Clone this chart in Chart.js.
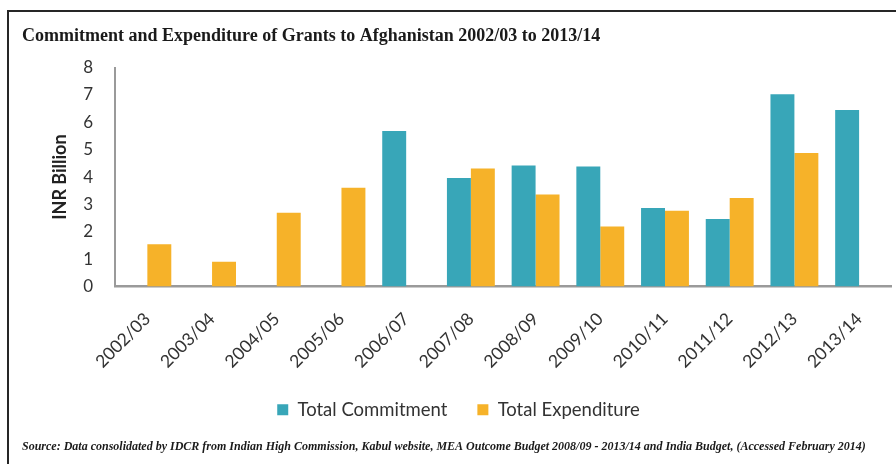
<!DOCTYPE html>
<html>
<head>
<meta charset="utf-8">
<script src="https://cdn.jsdelivr.net/npm/chart.js@4.4.1/dist/chart.umd.min.js"></script>
<style>
  html, body { margin: 0; padding: 0; background: #fff; }
  #wrap { position: relative; width: 896px; height: 464px; }
  #frame {
    position: absolute; left: 7px; top: 10px; width: 900px; height: 470px;
    border-top: 2.5px solid #262626; border-left: 2.5px solid #262626;
    pointer-events: none;
  }
</style>
</head>
<body>
<div id="wrap">
  <canvas id="chart" width="896" height="464"></canvas>
  <div id="frame"></div>
</div>
<script>
const years = ['2002/03', '2003/04', '2004/05', '2005/06', '2006/07', '2007/08',
               '2008/09', '2009/10', '2010/11', '2011/12', '2012/13', '2013/14'];
const commitment = [null, null, null, null, 5.68, 3.97, 4.42, 4.39, 2.87, 2.47, 7.03, 6.45];
const expenditure = [1.55, 0.91, 2.70, 3.61, null, 4.31, 3.36, 2.20, 2.77, 3.24, 4.88, null];
const yTicks = [0, 1, 2, 3, 4, 5, 6, 7, 8];

const sans = 'Lato, "Open Sans", sans-serif';
const serif = '"Liberation Serif", "Times New Roman", serif';

new Chart(document.getElementById('chart').getContext('2d'), {
    type: 'bar',
    data: {
        labels: years,
        datasets: [{
            label: 'Total Commitment',
            data: commitment,
            backgroundColor: '#38A6B8',
            barPercentage: 1,
            categoryPercentage: 0.74
        }, {
            label: 'Total Expenditure',
            data: expenditure,
            backgroundColor: '#F6B229',
            barPercentage: 1,
            categoryPercentage: 0.74
        }]
    },
    options: {
        responsive: false,
        animation: false,
        layout: { padding: { left: 22, right: 1, top: 0, bottom: 0 } },
        plugins: {
            title: {
                display: true,
                text: 'Commitment and Expenditure of Grants to Afghanistan 2002/03 to 2013/14',
                align: 'start',
                color: '#1a1a1a',
                font: { family: serif, size: 18, weight: 'bold' },
                padding: { top: 26, bottom: 20 }
            },
            subtitle: {
                display: true,
                position: 'bottom',
                text: 'Source: Data consolidated by IDCR from Indian High Commission, Kabul website, MEA Outcome Budget 2008/09 - 2013/14 and India Budget, (Accessed February 2014)',
                align: 'start',
                color: '#1a1a1a',
                font: { family: serif, size: 12, weight: 'bold', style: 'italic' },
                padding: { top: 10.5, bottom: 10 }
            },
            legend: {
                position: 'bottom',
                labels: {
                    color: '#333',
                    font: { family: sans, size: 18.5 },
                    boxWidth: 11,
                    boxHeight: 11,
                    padding: 30
                }
            },
            tooltip: { enabled: false }
        },
        scales: {
            x: {
                grid: { display: false, drawTicks: false },
                border: { color: '#9a9a9a', width: 2.5 },
                ticks: {
                    color: '#333',
                    font: { family: sans, size: 17.5 },
                    minRotation: 45,
                    maxRotation: 45,
                    padding: 22
                },
                afterFit: (scale) => { scale.height = 84; }
            },
            y: {
                min: 0,
                max: 8,
                afterBuildTicks: (scale) => { scale.ticks = yTicks.map(v => ({ value: v })); },
                grid: { display: false, drawTicks: false },
                border: { color: '#9a9a9a', width: 2 },
                ticks: {
                    color: '#333',
                    font: { family: sans, size: 17 },
                    padding: 22
                },
                title: {
                    display: true,
                    text: 'INR Billion',
                    color: '#222',
                    font: { family: sans, size: 18, weight: 'bold' },
                    padding: { top: 27, bottom: 0 }
                },
                afterFit: (scale) => { scale.width = 93; }
            }
        }
    }
});
</script>
</body>
</html>
